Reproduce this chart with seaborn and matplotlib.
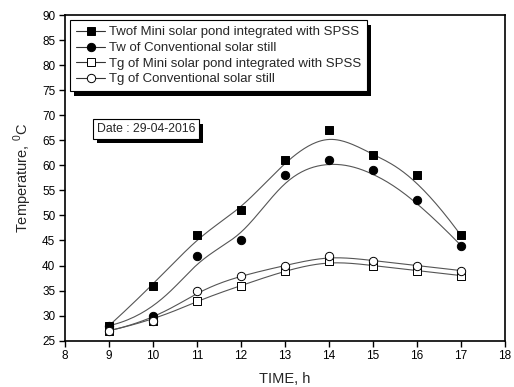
import numpy as np
import pandas as pd
import matplotlib
matplotlib.use("Agg")
import matplotlib.pyplot as plt
import matplotlib.patheffects as pe
from matplotlib.lines import Line2D
import seaborn as sns

hours = [9, 10, 11, 12, 13, 14, 15, 16, 17]
tw_mini = [28, 36, 46, 51, 61, 67, 62, 58, 46]
tw_conv = [28, 30, 42, 45, 58, 61, 59, 53, 44]
tg_mini = [27, 29, 33, 36, 39, 41, 40, 39, 38]
tg_conv = [27, 29, 35, 38, 40, 42, 41, 40, 39]
labels = ["Twof Mini solar pond integrated with SPSS",
          "Tw of Conventional solar still",
          "Tg of Mini solar pond integrated with SPSS",
          "Tg of Conventional solar still"]
date_text = "Date : 29-04-2016"

sns.set_style("ticks")
plt.rcParams['font.family'] = ['Liberation Sans', 'DejaVu Sans']


def bspline(x, y, n=200):
    # clamped uniform cubic B-spline with data as control points (Origin style)
    P = np.column_stack([x, y]).astype(float)
    k = 3
    m = len(P)
    knots = np.concatenate([[0] * k, np.arange(m - k + 1), [m - k] * k]).astype(float)
    t = np.linspace(0, m - k, n)
    t[-1] -= 1e-9

    def N(i, p, tt):
        if p == 0:
            return ((knots[i] <= tt) & (tt < knots[i + 1])).astype(float)
        d1 = knots[i + p] - knots[i]
        d2 = knots[i + p + 1] - knots[i + 1]
        r = np.zeros_like(tt)
        if d1 > 0:
            r += (tt - knots[i]) / d1 * N(i, p - 1, tt)
        if d2 > 0:
            r += (knots[i + p + 1] - tt) / d2 * N(i + 1, p - 1, tt)
        return r

    B = np.array([N(i, k, t) for i in range(m)])
    C = B.T @ P
    return C[:, 0], C[:, 1]


fig = plt.figure(figsize=(5.14, 3.87), dpi=100)
ax = fig.add_axes([0.1265, 0.1196, 0.856, 0.8416])

series = [tw_mini, tw_conv, tg_mini, tg_conv]
markers = ['s', 'o', 's', 'o']
faces = ['black', 'black', 'white', 'white']
sizes = [28, 36, 28, 36]
line_col = '#555555'

for vals in series:
    sx, sy = bspline(hours, vals)
    sns.lineplot(x=sx, y=sy, ax=ax, color=line_col, lw=0.8, sort=False,
                 estimator=None, legend=False, zorder=2)
for vals, mk, fc, sz in zip(series, markers, faces, sizes):
    sns.scatterplot(x=hours, y=vals, ax=ax, marker=mk, s=sz, facecolor=fc,
                    edgecolor='black', linewidth=0.7, legend=False, zorder=3)

ax.set_xlim(8, 18)
ax.set_ylim(25, 90)
ax.set_xticks(range(8, 19))
ax.set_yticks(range(25, 91, 5))
ax.tick_params(direction='out', length=4, width=1, labelsize=8.5, colors='black',
               top=False, right=False, pad=3)
for s in ax.spines.values():
    s.set_linewidth(1.2)
    s.set_color('black')
ax.set_xlabel("TIME, h", fontsize=10.5, labelpad=7)
ax.set_ylabel(r"Temperature, $^{\mathregular{0}}$C", fontsize=10.5, labelpad=6)

handles = [Line2D([], [], color='#333333', lw=0.8, marker=mk, markersize=ms,
                  markerfacecolor=fc, markeredgecolor='black', markeredgewidth=0.7)
           for mk, fc, ms in zip(markers, faces, [5.5, 6, 5.5, 6])]
leg = ax.legend(handles, labels, loc='upper left', bbox_to_anchor=(0.0, 1.0),
                fontsize=9.5, frameon=True, fancybox=False, handlelength=2.2,
                handletextpad=0.3, labelspacing=0.26, borderpad=0.45,
                borderaxespad=0.4)
fr = leg.get_frame()
fr.set_edgecolor('black')
fr.set_linewidth(0.8)
fr.set_alpha(1)
fr.set_path_effects([pe.SimplePatchShadow(offset=(2.8, -3.2), shadow_rgbFace='black', alpha=1),
                     pe.Normal()])

t = ax.text(0.072, 0.65, date_text, transform=ax.transAxes, fontsize=8.8,
            ha='left', va='center',
            bbox=dict(boxstyle='square,pad=0.3', facecolor='white', edgecolor='black', lw=0.8))
t.get_bbox_patch().set_path_effects([pe.SimplePatchShadow(offset=(2.8, -3.2), shadow_rgbFace='black', alpha=1),
                                     pe.Normal()])

fig.savefig("out.png", dpi=100)
